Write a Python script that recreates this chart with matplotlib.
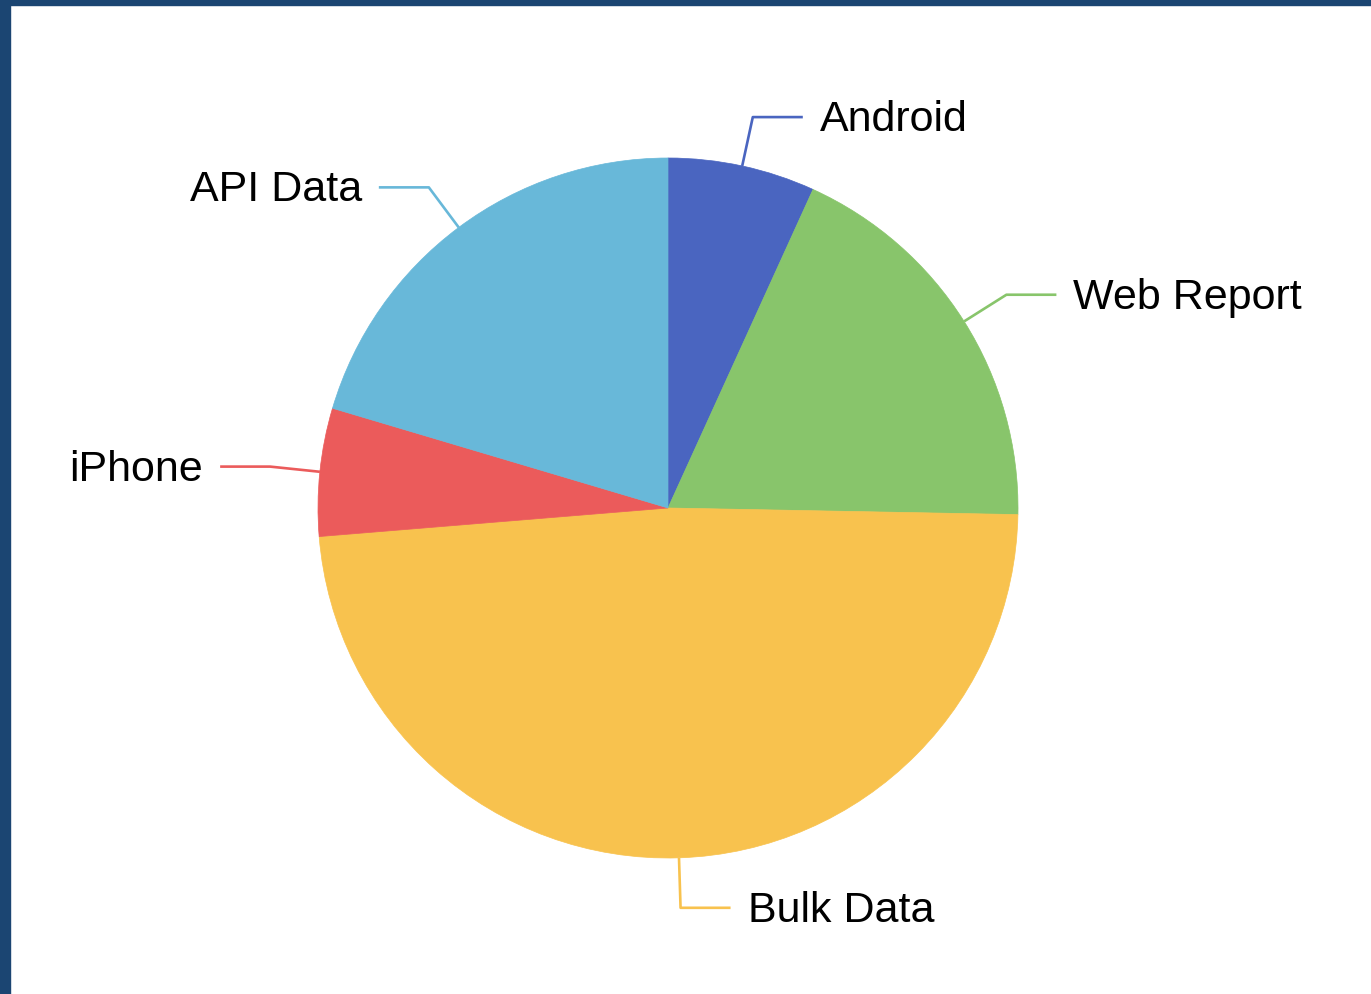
import numpy as np
import matplotlib
matplotlib.use('Agg')
import matplotlib.pyplot as plt
from matplotlib.patches import Rectangle

# Slice data (clockwise from 12 o'clock)
labels = ['Android', 'Web Report', 'Bulk Data', 'iPhone', 'API Data']
values = [6.8, 18.5, 48.4, 5.9, 20.4]
colors = ['#4a65c0', '#88c56b', '#f8c24e', '#eb5b5b', '#68b8d9']

W, H = 1371, 994
fig = plt.figure(figsize=(W / 100, H / 100), dpi=100)
ax = fig.add_axes([0, 0, 1, 1])

cx, cy, r = 668, H - 508, 350
wedges, _ = ax.pie(values, colors=colors, startangle=90, counterclock=False,
                   center=(cx, cy), radius=r, frame=True,
                   wedgeprops=dict(linewidth=0.5, antialiased=True))
for w, c in zip(wedges, colors):
    w.set_edgecolor(c)
ax.set_xlim(0, W)
ax.set_ylim(0, H)
ax.axis('off')

# Label lines: radial segment then horizontal segment
for w, lab, c in zip(wedges, labels, colors):
    ang = np.deg2rad((w.theta1 + w.theta2) / 2)
    x0, y0 = cx + r * np.cos(ang), cy + r * np.sin(ang)
    x1, y1 = cx + (r + 50) * np.cos(ang), cy + (r + 50) * np.sin(ang)
    side = 1 if np.cos(ang) >= 0 else -1
    x2 = x1 + side * 50
    ax.plot([x0, x1, x2], [y0, y1, y1], color=c, lw=1.9, solid_capstyle='butt')
    ax.text(x2 + side * 17, y1 - 3, lab, ha='left' if side > 0 else 'right',
            va='center', fontsize=31, family='Liberation Sans', color='#000000')

# Dark blue frame on top and left
fig.patches.append(Rectangle((0, 1 - 5 / H), 1, 5 / H, transform=fig.transFigure,
                             color='#1b4572', zorder=10))
fig.patches.append(Rectangle((0, 0), 10 / W, 1, transform=fig.transFigure,
                             color='#1b4572', zorder=10))

fig.savefig('out.png', dpi=100)
